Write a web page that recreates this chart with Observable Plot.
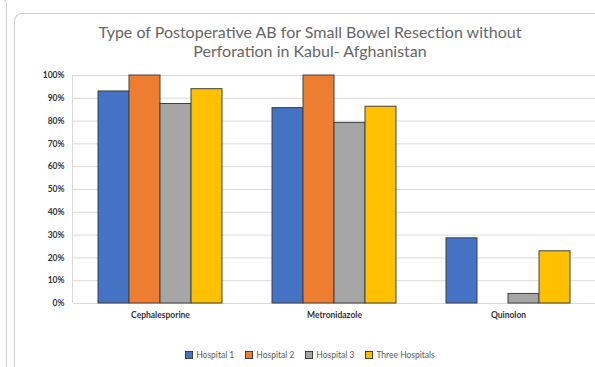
<!DOCTYPE html>
<html>
<head>
<meta charset="utf-8">
<script src="https://cdn.jsdelivr.net/npm/d3@7"></script>
<script src="https://cdn.jsdelivr.net/npm/@observablehq/plot@0.6"></script>
<style>
  body { margin: 0; background: #fff; font-family: Lato, "Open Sans", sans-serif; }
  #wrap { position: relative; width: 595px; height: 367px; overflow: hidden; background: #fff; }
  .edge-prev { position: absolute; left: -600px; top: -2px; width: 606px; height: 400px;
    border-right: 1px solid #d0d0d0; border-top: 1px solid #d0d0d0; border-top-right-radius: 6px; }
  .edge { position: absolute; left: 14px; top: 13px; width: 620px; height: 400px;
    border-left: 1px solid #d0d0d0; border-top: 1px solid #d0d0d0; border-top-left-radius: 8px; }
  #title { position: absolute; top: 22px; left: 20px; width: 580px; text-align: center;
    font-size: 16px; line-height: 19px; color: #666; }
  #chart { position: absolute; left: 0; top: 60px; }
  #legend { position: absolute; top: 349px; left: 0; width: 620px; display: flex;
    justify-content: center; gap: 11px; font-size: 8.5px; color: #595959; line-height: 12px; }
  #legend .item { display: flex; align-items: center; gap: 3px; }
  #legend .sw { width: 6px; height: 6px; border: 1px solid #404040; }
</style>
</head>
<body>
<div id="wrap">
  <div class="edge-prev"></div>
  <div class="edge"></div>
  <div id="title">Type of Postoperative AB for Small Bowel Resection without<br>Perforation in Kabul- Afghanistan</div>
  <div id="chart"></div>
  <div id="legend"></div>
</div>
<script>
// Antibiotic groups and the hospitals compared within each group
const categories = ["Cephalesporine", "Metronidazole", "Quinolon"];
const hospitals = ["Hospital 1", "Hospital 2", "Hospital 3", "Three Hospitals"];
const colors = ["#4472C4", "#ED7D31", "#A5A5A5", "#FFC000"];

// Share of patients (%) per antibiotic, one list per hospital
const hospital1 = [93, 85.7, 28.6];
const hospital2 = [100, 100, 0];
const hospital3 = [87.5, 79.2, 4.2];
const threeHospitals = [94, 86.3, 22.9];

const yTicks = [0, 10, 20, 30, 40, 50, 60, 70, 80, 90, 100];

const series = [hospital1, hospital2, hospital3, threeHospitals];
const rows = [];
categories.forEach((c, i) => {
  hospitals.forEach((h, j) => rows.push({category: c, hospital: h, value: series[j][i]}));
});

const plot = Plot.plot({
  width: 595,
  height: 268,
  marginLeft: 72,
  marginRight: 0,
  marginTop: 15,
  marginBottom: 25,
  style: {fontFamily: "Lato, 'Open Sans', sans-serif", fontSize: "8.5px", fontWeight: "bold", color: "#333"},
  fx: {domain: categories, padding: 0, label: null, tickSize: 0, tickPadding: 8},
  x: {domain: hospitals, axis: null, paddingInner: 0, paddingOuter: 0.724},
  y: {domain: [0, 100], ticks: yTicks, tickFormat: d => d + "%", tickSize: 0, tickPadding: 9, label: null},
  color: {domain: hospitals, range: colors},
  marks: [
    Plot.ruleY(yTicks, {stroke: "#d9d9d9", strokeWidth: 1}),
    Plot.barY(rows, {fx: "category", x: "hospital", y: "value", fill: "hospital",
      stroke: "#404040", strokeWidth: 1})
  ]
});
document.getElementById("chart").appendChild(plot);

// Value axis line along the left edge of the plotting area
const ys = plot.scale("y");
d3.select(plot).append("line")
  .attr("x1", 72.5).attr("x2", 72.5)
  .attr("y1", ys.apply(0)).attr("y2", ys.apply(100))
  .attr("stroke", "#d9d9d9");

// Legend
const legend = d3.select("#legend");
hospitals.forEach((h, i) => {
  const it = legend.append("div").attr("class", "item");
  it.append("div").attr("class", "sw").style("background", colors[i]);
  it.append("span").text(h);
});
</script>
</body>
</html>
